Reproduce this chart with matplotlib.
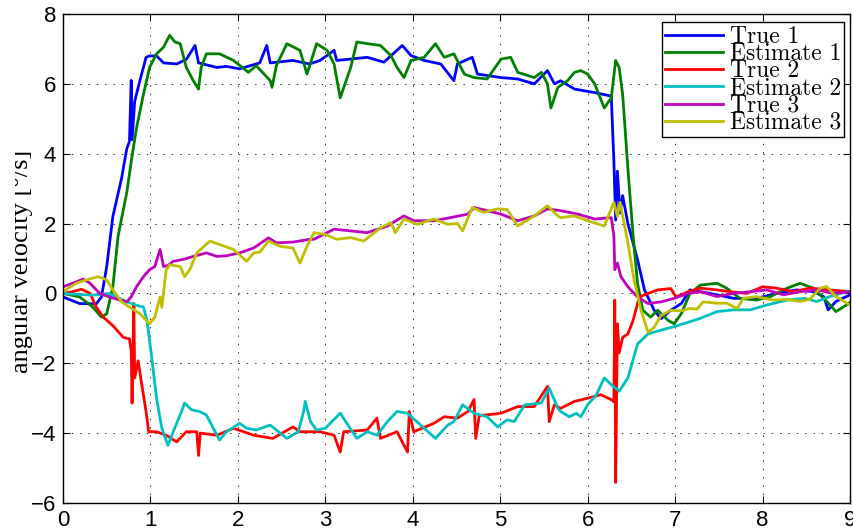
import numpy as np
import matplotlib
matplotlib.use('Agg')
import matplotlib.pyplot as plt
from matplotlib.transforms import Bbox

# angular velocity traces (time [s], value [deg/s])
t_true1 = [0, 0.19, 0.38, 0.44, 0.5, 0.57, 0.67, 0.73, 0.76, 0.78, 0.79, 0.82, 0.88, 0.95, 0.99,
           1.07, 1.15, 1.3, 1.41, 1.51, 1.55, 1.76, 1.87, 2.02, 2.25, 2.33, 2.37, 2.63, 2.82,
           2.94, 3.1, 3.13, 3.29, 3.48, 3.67, 3.88, 3.98, 4.13, 4.32, 4.47, 4.51, 4.68, 4.74,
           5.01, 5.2, 5.39, 5.54, 5.62, 5.69, 5.85, 6.08, 6.27, 6.3, 6.32, 6.34, 6.37, 6.4,
           6.46, 6.57, 6.65, 6.76, 6.84, 6.95, 7.07, 7.17, 7.4, 7.67, 7.93, 8.16, 8.39, 8.58,
           8.7, 8.75, 8.84, 9.0]
v_true1 = [-0.1, -0.29, -0.3, -0.1, 0.77, 2.2, 3.3, 4.15, 4.35, 6.1, 4.4, 5.5, 6.1, 6.76, 6.8,
           6.8, 6.6, 6.57, 6.7, 7.1, 6.6, 6.47, 6.5, 6.43, 6.6, 7.1, 6.6, 6.67, 6.57,
           6.67, 6.96, 6.67, 6.71, 6.76, 6.62, 7.1, 6.81, 6.67, 6.57, 6.09, 6.57, 6.76, 6.28,
           6.18, 6.14, 6.0, 6.38, 6.0, 6.09, 5.85, 5.75, 5.65, 3.77, 2.1, 3.5, 2.3, 2.8,
           2.0, 0.97, 0.1, -0.48, -0.72, -0.48, -0.29, 0.1, 0.0, -0.14, -0.14, 0.0, 0.1, 0.05,
           -0.09, -0.47, -0.23, -0.04]

t_est1 = [0, 0.19, 0.34, 0.44, 0.5, 0.57, 0.63, 0.73, 0.78, 0.84, 0.92, 0.99, 1.07, 1.15, 1.22,
          1.28, 1.34, 1.41, 1.49, 1.55, 1.58, 1.64, 1.79, 1.95, 2.12, 2.21, 2.37, 2.39, 2.44,
          2.56, 2.71, 2.79, 2.9, 3.02, 3.1, 3.17, 3.29, 3.36, 3.48, 3.63, 3.75, 3.82, 3.9,
          3.98, 4.13, 4.26, 4.36, 4.47, 4.59, 4.7, 4.85, 5.01, 5.12, 5.2, 5.39, 5.47, 5.54,
          5.58, 5.66, 5.77, 5.85, 5.92, 6.0, 6.08, 6.19, 6.27, 6.32, 6.36, 6.4, 6.46, 6.52,
          6.57, 6.63, 6.72, 6.8, 6.92, 6.99, 7.07, 7.17, 7.29, 7.48, 7.59, 7.74, 7.93, 8.09,
          8.28, 8.43, 8.58, 8.7, 8.84, 8.96, 9.03]
v_est1 = [0.0, -0.1, -0.39, -0.68, -0.58, 0.19, 1.64, 2.9, 3.77, 4.73, 5.7, 6.47, 6.86, 7.05, 7.39,
          7.2, 7.15, 6.47, 6.09, 5.85, 6.47, 6.86, 6.86, 6.67, 6.33, 6.52, 6.09, 5.9, 6.52,
          7.15, 6.96, 6.28, 7.15, 6.96, 6.57, 5.6, 6.47, 7.2, 7.15, 7.1, 6.81, 6.47, 6.18,
          6.67, 6.76, 7.15, 6.76, 6.86, 6.28, 6.18, 6.14, 6.71, 6.76, 6.33, 6.18, 6.33, 6.0,
          5.31, 5.9, 6.09, 6.33, 6.38, 6.28, 6.0, 5.31, 5.6, 6.67, 6.47, 5.7, 3.57, 1.64,
          0.29, -0.48, -0.68, -0.48, -0.77, -0.87, -0.58, 0.0, 0.24, 0.29, 0.15, -0.14, -0.19, -0.09,
          0.15, 0.29, 0.15, -0.14, -0.52, -0.33, -0.2]

t_true2 = [0, 0.11, 0.21, 0.31, 0.38, 0.46, 0.57, 0.69, 0.76, 0.78, 0.79, 0.81, 0.82, 0.86, 0.9,
           0.95, 0.98, 1.07, 1.18, 1.3, 1.41, 1.53, 1.55, 1.57, 1.76, 1.95, 2.18, 2.4, 2.63,
           2.71, 2.94, 3.1, 3.17, 3.21, 3.48, 3.59, 3.63, 3.82, 3.94, 3.96, 4.01, 4.24, 4.36,
           4.51, 4.63, 4.7, 4.72, 4.76, 5.01, 5.2, 5.39, 5.54, 5.56, 5.62, 5.69, 5.85, 6.0,
           6.15, 6.27, 6.3, 6.31, 6.32, 6.34, 6.36, 6.4, 6.46, 6.52, 6.59, 6.69, 6.8, 6.95,
           7.01, 7.15, 7.29, 7.48, 7.63, 7.82, 8.0, 8.16, 8.35, 8.54, 8.77, 9.0]
v_true2 = [0.0, 0.05, 0.12, 0.0, -0.39, -0.68, -0.92, -1.26, -1.3, -1.64, -3.14, -0.29, -2.42, -1.93, -2.6,
           -3.38, -3.96, -3.96, -4.06, -4.25, -3.96, -3.96, -4.64, -4.0, -4.06, -3.86, -4.06, -4.15, -3.82,
           -3.96, -3.96, -4.06, -4.54, -3.96, -3.91, -3.57, -4.15, -3.96, -4.54, -3.38, -3.96, -3.72, -3.53,
           -3.57, -3.38, -3.04, -4.15, -3.5, -3.43, -3.24, -3.24, -2.66, -3.67, -3.19, -3.29, -3.09, -3.0,
           -2.9, -3.04, -3.1, -0.19, -5.41, -0.87, -1.7, -1.26, -1.16, -0.77, -0.1, 0.0, 0.1, 0.14,
           -0.1, 0.05, 0.15, 0.1, 0.05, 0.0, 0.19, 0.15, 0.05, 0.15, 0.1, 0.05]

t_est2 = [0, 0.19, 0.34, 0.46, 0.53, 0.61, 0.73, 0.84, 0.92, 0.96, 1.01, 1.07, 1.13, 1.2, 1.26,
          1.34, 1.39, 1.47, 1.56, 1.64, 1.72, 1.79, 1.87, 2.02, 2.1, 2.21, 2.37, 2.56, 2.69,
          2.75, 2.77, 2.83, 2.9, 3.0, 3.17, 3.36, 3.48, 3.59, 3.71, 3.82, 3.94, 4.13, 4.26,
          4.4, 4.47, 4.57, 4.7, 4.85, 4.97, 5.08, 5.16, 5.28, 5.47, 5.56, 5.66, 5.69, 5.79,
          5.87, 5.92, 6.0, 6.1, 6.19, 6.27, 6.36, 6.46, 6.57, 6.69, 6.84, 6.99, 7.17, 7.29,
          7.48, 7.67, 7.86, 8.05, 8.28, 8.47, 8.62, 8.77, 8.96, 9.02]
v_est2 = [0.0, -0.03, -0.05, -0.02, 0.0, -0.1, -0.24, -0.34, -0.39, -0.77, -1.74, -3.0, -3.86, -4.35, -3.96,
          -3.48, -3.14, -3.33, -3.38, -3.48, -3.86, -4.2, -3.96, -3.72, -3.86, -3.91, -3.77, -4.15, -3.96,
          -3.4, -3.09, -3.67, -3.91, -3.86, -3.43, -4.15, -3.96, -4.06, -3.67, -3.38, -3.43, -3.86, -4.15,
          -3.77, -3.67, -3.19, -3.43, -3.53, -3.82, -3.62, -3.67, -3.19, -3.14, -2.71, -3.29, -3.38, -3.53,
          -3.43, -3.53, -3.19, -2.9, -2.42, -2.61, -2.8, -2.42, -1.45, -1.16, -1.05, -0.95, -0.81, -0.71,
          -0.52, -0.47, -0.47, -0.33, -0.19, -0.14, -0.23, -0.09, 0.05, 0.05]

t_true3 = [0, 0.11, 0.23, 0.31, 0.42, 0.53, 0.65, 0.73, 0.78, 0.84, 0.92, 0.99, 1.05, 1.11, 1.15,
           1.2, 1.26, 1.37, 1.49, 1.64, 1.76, 1.87, 2.02, 2.18, 2.35, 2.44, 2.63, 2.82, 2.87,
           3.1, 3.29, 3.48, 3.71, 3.9, 4.01, 4.24, 4.43, 4.63, 4.7, 4.85, 5.01, 5.2, 5.39,
           5.54, 5.69, 5.89, 6.08, 6.27, 6.3, 6.31, 6.34, 6.38, 6.46, 6.57, 6.69, 6.84, 6.99,
           7.15, 7.29, 7.48, 7.67, 7.86, 8.05, 8.24, 8.43, 8.62, 8.81, 9.0]
v_true3 = [0.19, 0.29, 0.41, 0.29, 0.0, -0.1, -0.19, -0.24, -0.1, 0.19, 0.48, 0.68, 0.77, 1.26, 0.77,
           0.8, 0.92, 0.97, 1.06, 1.16, 1.06, 1.08, 1.16, 1.3, 1.59, 1.45, 1.47, 1.55, 1.55,
           1.84, 1.79, 1.74, 1.93, 2.22, 2.08, 2.08, 2.17, 2.27, 2.46, 2.37, 2.27, 2.08, 2.22,
           2.42, 2.37, 2.27, 2.13, 2.17, 1.64, 0.68, 0.87, 0.48, 0.19, -0.1, -0.29, -0.24, -0.14,
           0.0, 0.05, -0.09, 0.0, 0.05, 0.1, -0.04, 0.05, 0.1, 0.0, 0.05]

t_est3 = [0, 0.15, 0.27, 0.4, 0.5, 0.57, 0.67, 0.76, 0.88, 0.99, 1.05, 1.11, 1.13, 1.18, 1.22,
          1.34, 1.39, 1.45, 1.53, 1.68, 1.79, 1.95, 2.1, 2.18, 2.25, 2.35, 2.48, 2.63, 2.71,
          2.79, 2.87, 3.0, 3.13, 3.29, 3.44, 3.63, 3.75, 3.8, 3.9, 4.05, 4.24, 4.4, 4.51,
          4.57, 4.68, 4.81, 4.97, 5.08, 5.2, 5.39, 5.54, 5.66, 5.69, 5.85, 6.0, 6.19, 6.3,
          6.34, 6.37, 6.46, 6.53, 6.61, 6.69, 6.76, 6.84, 6.95, 7.07, 7.17, 7.25, 7.32, 7.48,
          7.59, 7.71, 7.78, 7.93, 8.12, 8.28, 8.43, 8.54, 8.66, 8.73, 8.84, 9.0]
v_est3 = [0.05, 0.29, 0.39, 0.48, 0.39, 0.1, -0.24, -0.39, -0.58, -0.87, -0.68, -0.1, -0.4, 0.68, 0.82,
          0.77, 0.48, 0.68, 1.16, 1.5, 1.4, 1.26, 0.92, 1.16, 1.18, 1.5, 1.35, 1.3, 0.87,
          1.35, 1.74, 1.69, 1.55, 1.6, 1.5, 1.88, 2.03, 1.74, 2.13, 1.98, 2.13, 1.98, 2.0,
          1.79, 2.46, 2.32, 2.42, 2.4, 1.93, 2.22, 2.51, 2.22, 2.17, 2.22, 2.08, 1.93, 2.61,
          2.2, 2.61, 1.45, 0.39, -0.48, -1.11, -0.97, -0.63, -0.48, -0.5, -0.43, -0.45, -0.24, -0.28,
          -0.28, -0.43, -0.14, -0.09, -0.19, -0.17, -0.23, -0.17, 0.15, 0.2, -0.09, -0.33]

series = [(t_true1, v_true1, '#0000FF', 'True 1'),
          (t_est1, v_est1, '#008000', 'Estimate 1'),
          (t_true2, v_true2, '#FF0000', 'True 2'),
          (t_est2, v_est2, '#00BFBF', 'Estimate 2'),
          (t_true3, v_true3, '#BF00BF', 'True 3'),
          (t_est3, v_est3, '#BFBF00', 'Estimate 3')]

matplotlib.rcParams['lines.scale_dashes'] = False
matplotlib.rcParams['font.family'] = ['Liberation Sans', 'DejaVu Sans']

fig = plt.figure(figsize=(8.54, 5.29), dpi=100)
ax = fig.add_axes([63/854., 26/529., 787/854., 489/529.])

for t, v, c, lab in series:
    ax.plot(t, v, '-', color=c, linewidth=2.0, label=lab)

ax.set_xlim(0, 9)
ax.set_ylim(-6, 8)
ax.set_xticks(np.arange(0, 10, 1))
ax.set_yticks(np.arange(-6, 9, 2))
ax.grid(True, color='black', linestyle=(0, (1, 5)), linewidth=0.6)
ax.set_axisbelow(True)
ax.tick_params(direction='in', length=5, width=0.8, top=True, right=True,
               labelsize=16, pad=5)
for sp in ax.spines.values():
    sp.set_linewidth(1.0)

leg = ax.legend(loc='upper right', bbox_to_anchor=(0.993, 0.983), borderaxespad=0,
                prop={'family': 'cmr10', 'size': 16.9}, fancybox=False, framealpha=1,
                edgecolor='black', handlelength=2.45, labelspacing=-0.21, borderpad=0.15,
                handletextpad=0.3)
leg.get_frame().set_linewidth(1.0)

# y label: its left part is cut off in the source
ylab = fig.text(28/854., (529 - 261.5)/529., 'angular velocity [°/s]', rotation=90,
                rotation_mode='anchor', ha='center', va='baseline', fontsize=19,
                family='Liberation Serif')
ylab.set_clip_box(Bbox.from_extents(15, 0, 60, 529))
ylab.set_clip_on(True)

fig.savefig('out.png', dpi=100)
